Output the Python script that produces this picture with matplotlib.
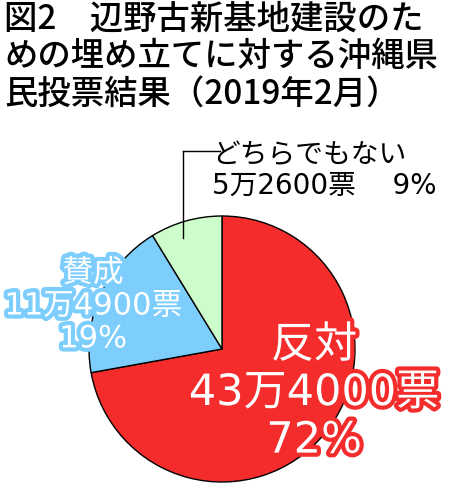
import matplotlib
matplotlib.use("Agg")
import matplotlib.pyplot as plt
import matplotlib.patheffects as pe
from matplotlib.lines import Line2D

plt.rcParams['font.family'] = ['Noto Sans CJK JP', 'DejaVu Sans']

# データ
labels = ['反対', '賛成', 'どちらでもない']
votes = [434000, 114900, 52600]
vote_text = ['43万4000票', '11万4900票', '5万2600票']
pct_text = ['72%', '19%', '9%']
colors = ['#F42C2C', '#7DCDFD', '#CDFDCB']
title = '図2　辺野古新基地建設のた\nめの埋め立てに対する沖縄県\n民投票結果（2019年2月）'

# ラベル用: 数字は幅広のDejaVu、漢字はNotoへフォールバック
label_font = ['DejaVu Sans', 'Noto Sans CJK JP']

W, H = 450, 488
fig = plt.figure(figsize=(W / 100, H / 100), dpi=100)

def px(x, y):
    # 画像座標(左上原点) -> figure座標
    return x / W, 1 - y / H

# 円グラフ
cx, cy, r = 222, 349, 133
ax = fig.add_axes([(cx - r) / W, (H - cy - r) / H, 2 * r / W, 2 * r / H])
ax.pie(votes, colors=colors, startangle=90, counterclock=False,
       wedgeprops=dict(edgecolor='black', linewidth=1.0))
ax.set_xlim(-1, 1)
ax.set_ylim(-1, 1)
ax.set_aspect('equal')
ax.axis('off')

# タイトル
fig.text(*px(4, 2), title, ha='left', va='top', fontsize=24,
         fontweight='medium', linespacing=1.08, color='black')

# 反対
fig.text(*px(314, 393), f'{labels[0]}\n{vote_text[0]}\n{pct_text[0]}',
         ha='center', va='center', fontsize=31, color='white',
         linespacing=1.17, family=label_font,
         path_effects=[pe.withStroke(linewidth=6, foreground=colors[0])])

# 賛成
fig.text(*px(93, 306), f'{labels[1]}\n{vote_text[1]}\n{pct_text[1]}',
         ha='center', va='center', fontsize=22, color='white',
         linespacing=1.17, family=label_font,
         path_effects=[pe.withStroke(linewidth=6, foreground=colors[1])])

# どちらでもない
fig.text(*px(212, 170), f'{labels[2]}\n{vote_text[2]}　 {pct_text[2]}',
         ha='left', va='center', fontsize=20, color='black',
         linespacing=1.12, family=label_font)

# 引き出し線
fig.add_artist(Line2D([183 / W, 220 / W], [1 - 151 / H, 1 - 151 / H],
                      color='black', linewidth=1))
fig.add_artist(Line2D([183 / W, 183 / W], [1 - 151 / H, 1 - 238 / H],
                      color='black', linewidth=1))

fig.savefig('out.png', dpi=100)
